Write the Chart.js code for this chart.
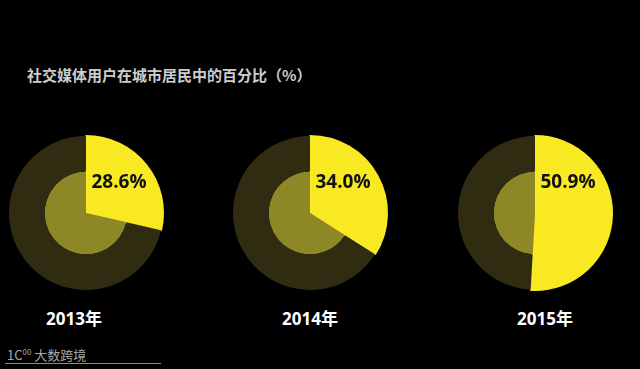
<!DOCTYPE html>
<html>
<head>
<meta charset="utf-8">
<script src="https://cdn.jsdelivr.net/npm/chart.js@4"></script>
<style>
  html, body { margin: 0; padding: 0; background: #000; }
  body { width: 640px; height: 369px; position: relative; overflow: hidden; font-family: "Noto Sans CJK SC", "Open Sans", sans-serif; }
  .title { position: absolute; left: 27px; top: 64px; color: #cdcdcd; font-size: 15px; font-weight: bold; white-space: nowrap; }
  .box { position: absolute; top: 133px; width: 160px; height: 160px; }
  .year { position: absolute; top: 305px; width: 120px; text-align: center; color: #fff; font-size: 17px; font-weight: bold; font-family: "Open Sans", "Noto Sans CJK SC", sans-serif; }
  .logo { position: absolute; left: 7px; top: 345px; color: #a9a9a9; font-size: 13px; white-space: nowrap; }
  .logo sup { font-size: 8px; }
  .rule { position: absolute; left: 5px; top: 363px; width: 156px; height: 1px; background: #8a8a8a; }
</style>
</head>
<body>
<div class="title">社交媒体用户在城市居民中的百分比（%）</div>

<div class="box" style="left:6px"><canvas id="c0"></canvas></div>
<div class="box" style="left:230px"><canvas id="c1"></canvas></div>
<div class="box" style="left:455px"><canvas id="c2"></canvas></div>

<div class="year" id="y0" style="left:14px"></div>
<div class="year" id="y1" style="left:250px"></div>
<div class="year" id="y2" style="left:485px"></div>

<div class="logo">1C<sup>00</sup> 大数跨境</div>
<div class="rule"></div>

<script>
const years = ['2013年', '2014年', '2015年'];
const shares = [28.6, 34.0, 50.9];

const yellow = '#f8e923';
const darkRing = '#2f2c12';
const innerDisc = '#8e8727';

const pctLabel = {
    id: 'pctLabel',
    afterDatasetsDraw(chart) {
        const arc = chart.getDatasetMeta(0).data[0];
        const ctx = chart.ctx;
        ctx.save();
        ctx.fillStyle = '#111';
        ctx.font = 'bold 19px "Open Sans", sans-serif';
        ctx.textAlign = 'center';
        ctx.textBaseline = 'middle';
        ctx.fillText(chart.data.datasets[0].data[0].toFixed(1) + '%', arc.x + 33, arc.y - 30);
        ctx.restore();
    }
};

shares.forEach(function(value, i) {
    document.getElementById('y' + i).innerText = years[i];
    const rest = 100 - value;
    new Chart(document.getElementById('c' + i), {
        type: 'pie',
        data: {
            labels: ['用户', '其他'],
            datasets: [
                {
                    // outer ring, drawn last so its yellow stroke hides the seam
                    data: [value, rest],
                    backgroundColor: [yellow, darkRing],
                    borderColor: [yellow, darkRing],
                    borderWidth: [2, 0],
                    weight: 36
                },
                {
                    data: [value, rest],
                    backgroundColor: [yellow, innerDisc],
                    borderColor: [yellow, innerDisc],
                    borderWidth: [1, 0],
                    weight: 42
                }
            ]
        },
        options: {
            responsive: true,
            maintainAspectRatio: false,
            animation: false,
            layout: { padding: 2 },
            plugins: {
                legend: { display: false },
                tooltip: { enabled: false }
            }
        },
        plugins: [pctLabel]
    });
});
</script>
</body>
</html>
